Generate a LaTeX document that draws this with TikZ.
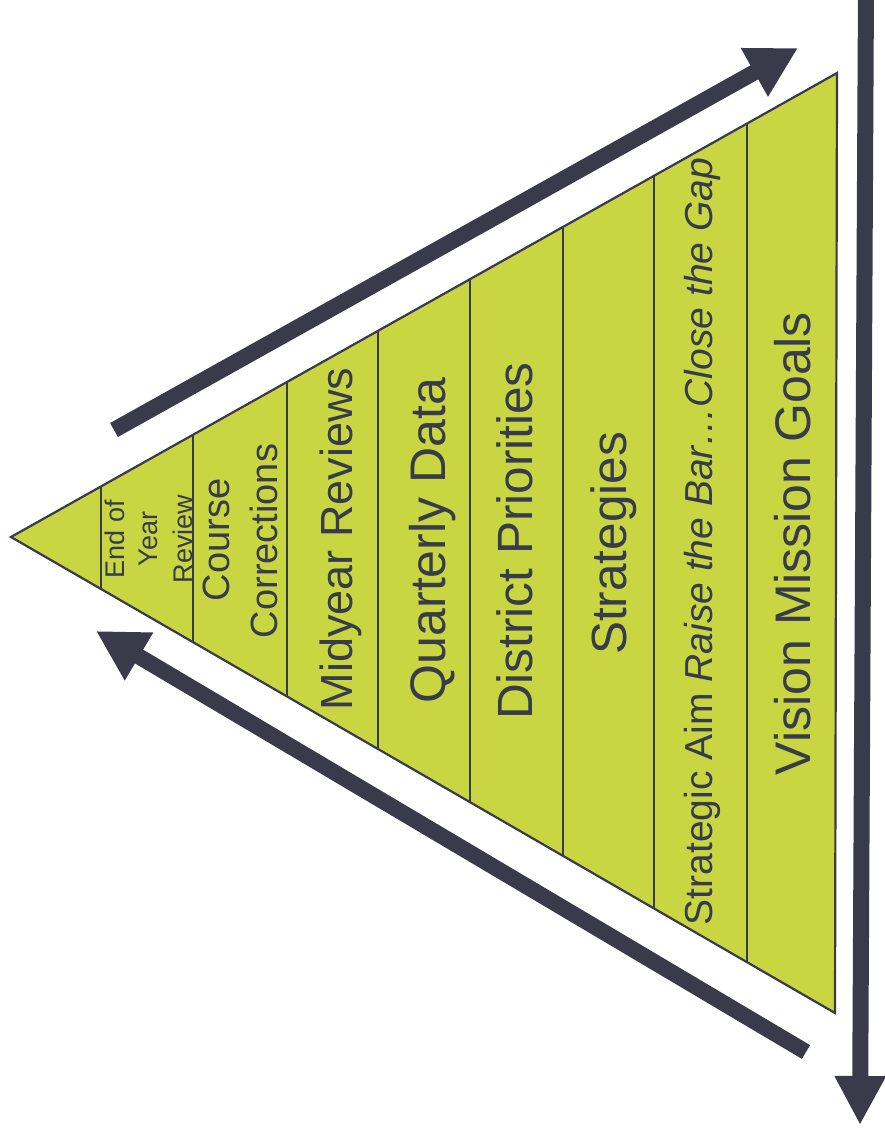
\documentclass[tikz,border=0pt]{standalone}
\usepackage{fontspec}
\setmainfont{Liberation Sans}
\usetikzlibrary{arrows.meta}
\definecolor{pyr}{RGB}{200,214,66}
\definecolor{ink}{RGB}{58,58,74}
\begin{document}
\begin{tikzpicture}[x=1pt,y=-1pt,
  lbl/.style={inner sep=0pt, rotate=90, anchor=base, text=ink},
  bigarrow/.style={draw=ink, line width=16pt, -{Triangle[length=50pt,width=52pt]}},
  divider/.style={draw=ink, line width=2.6pt}]
\useasboundingbox[fill=white] (0,0) rectangle (885,1130);
\coordinate (apex) at (11,537);
\coordinate (tr) at (837,73);
\coordinate (br) at (835,1013);
\fill[pyr] (apex) -- (tr) -- (br) -- cycle;
\begin{scope}
  \clip (apex) -- (tr) -- (br) -- cycle;
  \foreach \x in {101,193,287,378,470,563,654,747}
    \draw[divider] (\x,0) -- (\x,1130);
\end{scope}
\draw[ink, line width=2.2pt, line join=miter] (apex) -- (tr) -- (br) -- cycle;

\node[lbl, font=\fontsize{27}{32}\selectfont] (eoy1) at (124,539) {End of};
\node[lbl, font=\fontsize{27}{32}\selectfont] (eoy2) at (157,539) {Year};
\node[lbl, font=\fontsize{27}{32}\selectfont] (eoy3) at (192,539) {Review};
\node[lbl, font=\fontsize{38}{44}\selectfont] (cc1) at (229,540) {Course};
\node[lbl, font=\fontsize{38}{44}\selectfont] (cc2) at (277,541) {Corrections};
\node[lbl, font=\fontsize{45}{54}\selectfont] (mid) at (352,539) {Midyear Reviews};
\node[lbl, font=\fontsize{50}{60}\selectfont] (qd) at (445,540.5) {Quarterly Data};
\node[lbl, font=\fontsize{49.5}{60}\selectfont] (dp) at (532,541) {District Priorities};
\node[lbl, font=\fontsize{49.5}{60}\selectfont] (st) at (626,543.5) {Strategies};
\node[lbl, font=\fontsize{39}{46}\selectfont] (sa) at (712,541.5) {Strategic Aim \textit{Raise the Bar…Close the Gap}};
\node[lbl, font=\fontsize{50}{60}\selectfont] (vmg) at (810,543.5) {Vision Mission Goals};

\coordinate (a1s) at (114,430);
\coordinate (a1e) at (798,48);
\coordinate (a2s) at (806,1052);
\coordinate (a2e) at (96,631);
\coordinate (a3s) at (866,-10);
\coordinate (a3e) at (860,1125);
\draw[bigarrow] (a1s) -- (a1e);
\draw[bigarrow] (a2s) -- (a2e);
\draw[draw=ink, line width=16pt, -{Triangle[length=49pt,width=48pt]}] (a3s) -- (a3e);
\end{tikzpicture}
\end{document}
